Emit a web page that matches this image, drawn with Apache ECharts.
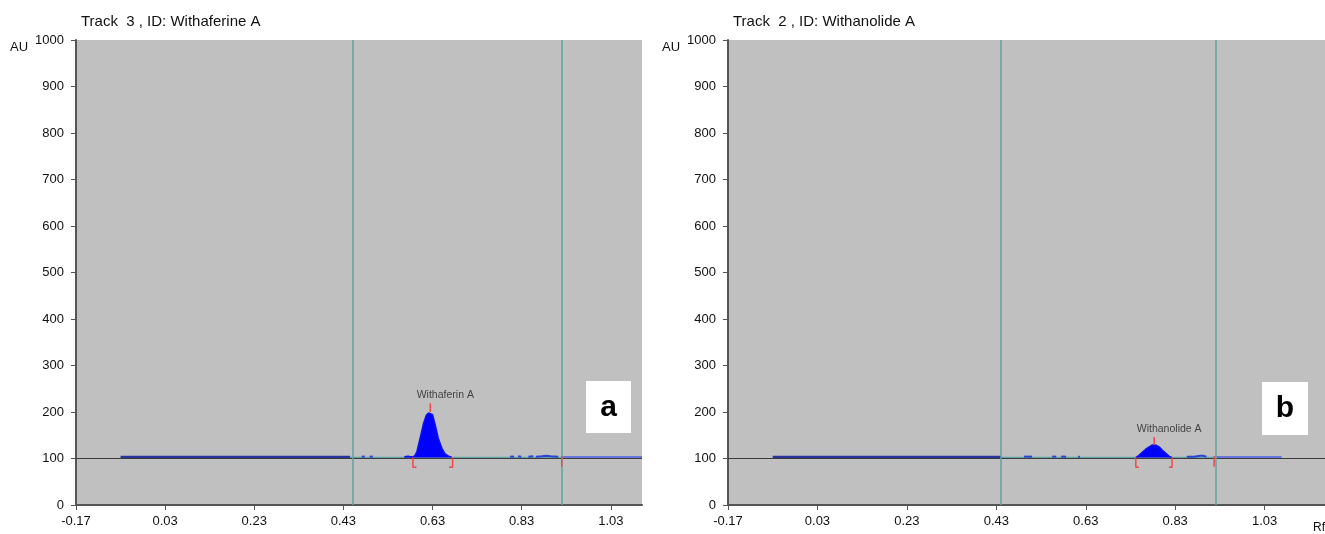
<!DOCTYPE html>
<html lang="en">
<head>
<meta charset="UTF-8">
<title>HPTLC densitograms</title>
<script src="https://cdn.jsdelivr.net/npm/echarts@6/dist/echarts.min.js"></script>
<style>
  html, body { margin: 0; padding: 0; background: #fff; }
  #chart { width: 1325px; height: 534px; }
</style>
</head>
<body>
<div id="chart"></div>
<script>
// Rf tick labels (same on both tracks)
const rfTicks = [-0.17, 0.03, 0.23, 0.43, 0.63, 0.83, 1.03];
const rfMax = [1.10, 1.165];
const trackTitles = ['Track  3 , ID: Withaferine A', 'Track  2 , ID: Withanolide A'];
const peakNames = ['Withaferin A', 'Withanolide A'];
const panelLetters = ['a', 'b'];

// Track 3 - Withaferin A  ([Rf, AU] pairs)
const t3Start = [[-0.07, 103], [0.445, 103]];
const t3Window = [0.445, 0.92];
const t3Noise = [
  [[0.471, 104], [0.478, 104]],
  [[0.489, 104], [0.496, 104]],
  [[0.804, 104], [0.813, 104]],
  [[0.822, 105], [0.829, 104]],
  [[0.845, 104], [0.856, 105]],
  [[0.862, 104], [0.875, 105], [0.885, 106], [0.895, 105], [0.912, 104]]
];
const t3Peak = [[0.567, 104], [0.575, 105], [0.581, 104], [0.586, 103], [0.591, 107], [0.595, 115],
  [0.602, 143], [0.610, 176], [0.616, 193], [0.621, 198], [0.625, 200], [0.630, 194], [0.636, 172],
  [0.643, 143], [0.651, 122], [0.658, 110], [0.666, 105], [0.673, 103]];
const t3End = [[0.92, 103], [1.10, 103]];
const t3Brackets = [
  [[0.586, 102], [0.586, 81], [0.594, 81]],
  [[0.675, 102], [0.675, 81], [0.667, 81]]
];
const t3Apex = [[0.625, 200], [0.625, 219]];
const t3Cut = [[0.92, 105], [0.92, 82]];

// Track 2 - Withanolide A
const t2Start = [[-0.07, 103], [0.441, 103]];
const t2Window = [0.441, 0.917];
const t2Noise = [
  [[0.492, 104], [0.510, 104]],
  [[0.555, 104], [0.564, 104]],
  [[0.575, 104], [0.586, 104]],
  [[0.613, 104], [0.617, 104]],
  [[0.856, 104], [0.872, 104], [0.886, 106], [0.892, 106], [0.900, 104]]
];
const t2Peak = [[0.742, 102], [0.749, 107], [0.757, 114], [0.764, 120], [0.772, 125], [0.779, 129],
  [0.783, 129], [0.786, 129], [0.794, 125], [0.801, 118], [0.809, 111], [0.816, 105], [0.823, 102]];
const t2End = [[0.917, 103], [1.068, 103]];
const t2Brackets = [
  [[0.742, 102], [0.742, 81], [0.749, 81]],
  [[0.823, 102], [0.823, 81], [0.816, 81]]
];
const t2Apex = [[0.783, 129], [0.783, 146]];
const t2Cut = [[0.917, 105], [0.917, 82]];

const tracks = [
  { start: t3Start, win: t3Window, noise: t3Noise, peak: t3Peak, end: t3End, brackets: t3Brackets, apex: t3Apex, cut: t3Cut },
  { start: t2Start, win: t2Window, noise: t2Noise, peak: t2Peak, end: t2End, brackets: t2Brackets, apex: t2Apex, cut: t2Cut }
];

const FONT = 'Liberation Sans, Arial, sans-serif';
const TEAL = '#62a3a3';
const RED = '#f04848';

function seg(data, i, color, width, z) {
  return {
    type: 'line', xAxisIndex: i, yAxisIndex: i, data: data,
    symbol: 'none', silent: true, z: z || 3,
    lineStyle: { color: color, width: width }
  };
}

const series = [];
tracks.forEach((t, i) => {
  // baseline at 100 AU and the two teal window lines
  series.push({
    type: 'line', xAxisIndex: i, yAxisIndex: i, data: [], silent: true,
    markLine: {
      symbol: 'none', silent: true, label: { show: false },
      data: [
        { yAxis: 100, lineStyle: { color: '#3c3c3c', width: 1, type: 'solid' } },
        { xAxis: t.win[0], lineStyle: { color: TEAL, width: 1.5, type: 'solid' } },
        { xAxis: t.win[1], lineStyle: { color: TEAL, width: 1.5, type: 'solid' } }
      ]
    }
  });
  series.push(seg(t.start, i, '#27339a', 2.5, 4));
  series.push(seg([[t.win[0], 102], [t.win[1], 102]], i, TEAL, 1.5, 3));
  t.noise.forEach(d => series.push(seg(d, i, '#2a44d8', 2, 4)));
  series.push(seg(t.end, i, '#4b5ce8', 1.5, 4));
  series.push({
    type: 'line', xAxisIndex: i, yAxisIndex: i, data: t.peak,
    symbol: 'none', silent: true, z: 5,
    lineStyle: { color: '#0a10f0', width: 1.5 },
    areaStyle: { color: '#0000ff', opacity: 1, origin: 102 }
  });
  t.brackets.forEach(d => series.push(seg(d, i, RED, 1.5, 6)));
  series.push(seg(t.apex, i, RED, 1.5, 6));
  series.push(seg(t.cut, i, RED, 1.5, 6));
  series.push({
    type: 'scatter', xAxisIndex: i, yAxisIndex: i, data: [t.apex[1]],
    symbolSize: 0, silent: true, z: 7,
    label: {
      show: true, formatter: peakNames[i], position: 'top', distance: 3,
      offset: [15, 0], fontFamily: FONT, fontSize: 10.5, color: '#222'
    }
  });
});

const grids = [
  { left: 76, top: 40, width: 566, height: 465 },
  { left: 728, top: 40, width: 597, height: 465 }
];

const chart = echarts.init(document.getElementById('chart'));
chart.setOption({
  animation: false,
  backgroundColor: '#fff',
  title: trackTitles.map((txt, i) => ({
    text: txt, left: grids[i].left, top: 9,
    textStyle: { fontFamily: FONT, fontSize: 15, fontWeight: 'normal', color: '#111' }
  })),
  grid: grids.map(g => Object.assign({ show: true, backgroundColor: '#c0c0c0', borderWidth: 0 }, g)),
  xAxis: grids.map((g, i) => ({
    type: 'value', gridIndex: i, min: -0.17, max: rfMax[i],
    splitLine: { show: false },
    axisLine: { onZero: false, lineStyle: { color: '#555', width: 2 } },
    axisTick: { show: true, length: 5, lineStyle: { color: '#555' }, customValues: rfTicks },
    axisLabel: {
      customValues: rfTicks, margin: 10, fontFamily: FONT, fontSize: 13, color: '#111',
      formatter: v => v.toFixed(2)
    }
  })),
  yAxis: grids.map((g, i) => ({
    type: 'value', gridIndex: i, min: 0, max: 1000, interval: 100,
    splitLine: { show: false },
    axisLine: { show: true, onZero: false, lineStyle: { color: '#555', width: 2 } },
    axisTick: { show: true, length: 5, lineStyle: { color: '#555' } },
    axisLabel: { margin: 12, fontFamily: FONT, fontSize: 13, color: '#111', formatter: v => String(v) }
  })),
  graphic: [
    { type: 'text', left: 10, top: 41, style: { text: 'AU', font: '13px ' + FONT, fill: '#111' } },
    { type: 'text', left: 662, top: 41, style: { text: 'AU', font: '13px ' + FONT, fill: '#111' } },
    { type: 'rect', shape: { x: 586, y: 381, width: 45, height: 52 }, style: { fill: '#fff' }, z: 10 },
    { type: 'text', x: 608.5, y: 408, z: 11,
      style: { text: panelLetters[0], font: 'bold 30px ' + FONT, fill: '#000', align: 'center', verticalAlign: 'middle' } },
    { type: 'rect', shape: { x: 1262, y: 382, width: 46, height: 53 }, style: { fill: '#fff' }, z: 10 },
    { type: 'text', x: 1285, y: 409, z: 11,
      style: { text: panelLetters[1], font: 'bold 30px ' + FONT, fill: '#000', align: 'center', verticalAlign: 'middle' } },
    { type: 'text', left: 1313, top: 522, style: { text: 'Rf', font: '12px ' + FONT, fill: '#111' } }
  ],
  series: series
});
</script>
</body>
</html>
